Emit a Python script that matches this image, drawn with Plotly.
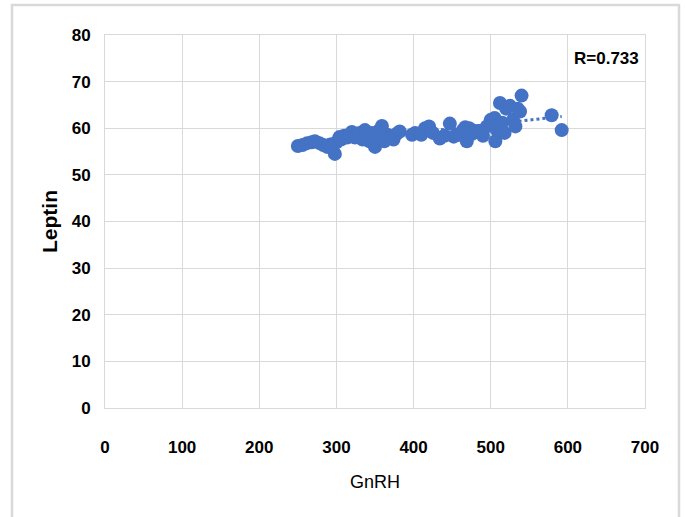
import plotly.graph_objects as go
import numpy as np

gnrh = [250, 256, 262, 268, 272, 278, 283, 288, 292, 298, 300, 304, 306, 310, 314, 318, 320,
        324, 327, 330, 334, 337, 340, 343, 346, 350, 352, 355, 359, 362, 366, 370, 374, 378,
        382, 398, 402, 410, 415, 420, 425, 434, 440, 447, 452, 456, 460, 464, 467, 469, 472,
        476, 480, 486, 490, 495, 500, 503, 505, 506, 508, 510, 512, 515, 518, 520, 525, 529,
        532, 535, 538, 540, 579, 592]
leptin = [56.2, 56.4, 56.8, 57.0, 57.2, 56.8, 56.4, 56.0, 56.5, 54.5, 57.0, 58.1, 57.6, 58.4,
          58.0, 58.8, 59.2, 58.0, 58.5, 59.0, 57.6, 59.6, 58.2, 57.2, 59.0, 56.0, 58.4, 59.5,
          60.5, 57.2, 58.6, 58.2, 57.6, 58.8, 59.3, 58.6, 59.0, 58.6, 60.0, 60.4, 59.0, 57.8,
          58.4, 61.0, 58.2, 58.6, 58.6, 59.6, 60.2, 57.2, 60.0, 58.8, 59.4, 59.4, 58.4, 60.4,
          61.8, 60.8, 62.2, 57.2, 59.6, 60.4, 65.4, 61.2, 59.0, 64.2, 64.8, 61.8, 60.4, 64.2,
          63.6, 67.0, 62.8, 59.6]
x_ticks = [0, 100, 200, 300, 400, 500, 600, 700]
y_ticks = [0, 10, 20, 30, 40, 50, 60, 70, 80]
r_label = "R=0.733"

blue = "#4472C4"
grid = "#d9d9d9"
tick_font = dict(family="Liberation Sans, Arial", size=17, color="#000000", weight="bold")

slope, intercept = np.polyfit(gnrh, leptin, 1)
tx = [min(gnrh), max(gnrh)]
ty = [slope * v + intercept for v in tx]

fig = go.Figure()
fig.add_trace(go.Scatter(x=tx, y=ty, mode="lines",
                         line=dict(color=blue, width=3, dash="dot"),
                         hoverinfo="skip", showlegend=False))
fig.add_trace(go.Scatter(x=gnrh, y=leptin, mode="markers",
                         marker=dict(color=blue, size=14, line=dict(width=0)),
                         showlegend=False))

fig.update_layout(
    width=686, height=517,
    margin=dict(l=105, r=41, t=35, b=109),
    paper_bgcolor="white", plot_bgcolor="white",
    xaxis=dict(range=[0, 700], tickvals=x_ticks, showgrid=True, gridcolor=grid, gridwidth=1,
               showline=True, linecolor=grid, linewidth=1, mirror=True, zeroline=False,
               tickfont=tick_font, ticks="", ticklabelstandoff=24,
               title=dict(text="GnRH", standoff=18,
                          font=dict(family="Liberation Sans, Arial", size=18,
                                    color="#000000"))),
    yaxis=dict(range=[0, 80], tickvals=y_ticks, showgrid=True, gridcolor=grid, gridwidth=1,
               showline=True, linecolor=grid, linewidth=1, mirror=True, zeroline=False,
               tickfont=tick_font, ticks="", ticklabelstandoff=10,
               title=dict(text="Leptin", standoff=8,
                          font=dict(family="Liberation Sans, Arial", size=21,
                                    color="#000000", weight="bold"))),
    annotations=[dict(text=r_label, x=(641 - 105) / 540, y=(408 - 58) / 373,
                      xref="paper", yref="paper",
                      xanchor="right", yanchor="middle", showarrow=False,
                      font=dict(family="Liberation Sans, Arial", size=17,
                                color="#000000", weight="bold"))],
    shapes=[dict(type="rect", xref="paper", yref="paper",
                 x0=(12 - 105) / 540, x1=(679 - 105) / 540,
                 y0=(408 - 530) / 373, y1=(408 - 5) / 373,
                 line=dict(color=grid, width=2.5), fillcolor="rgba(0,0,0,0)", layer="below")],
)

fig.write_html("out.html", config={"displayModeBar": False},
               post_script="document.body.style.margin='0px';")
